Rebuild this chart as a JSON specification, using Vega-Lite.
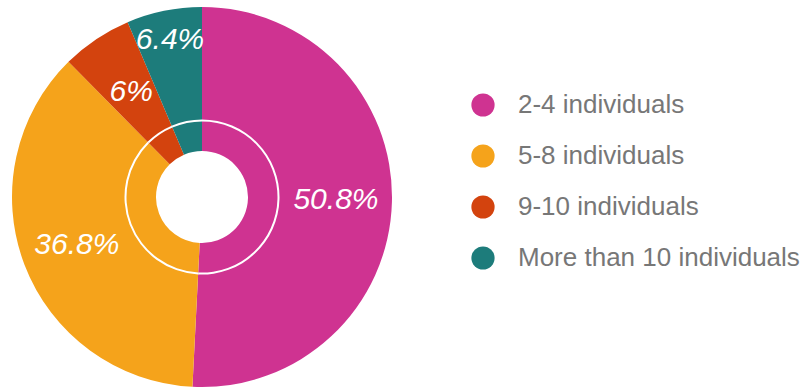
{
  "$schema": "https://vega.github.io/schema/vega-lite/v6.json",
  "width": 404,
  "height": 386,
  "autosize": {"type": "none"},
  "padding": {"left": 0, "top": 4, "right": 405, "bottom": 0},
  "background": "white",
  "view": {"stroke": null},
  "data": {
    "values": [
      {"cat": "2-4 individuals", "pct": 50.8, "label": "50.8%", "ord": 1},
      {"cat": "5-8 individuals", "pct": 36.8, "label": "36.8%", "ord": 2},
      {"cat": "9-10 individuals", "pct": 6, "label": "6%", "ord": 3},
      {"cat": "More than 10 individuals", "pct": 6.4, "label": "6.4%", "ord": 4}
    ]
  },
  "encoding": {
    "theta": {"field": "pct", "type": "quantitative", "stack": true},
    "order": {"field": "ord", "type": "quantitative"}
  },
  "layer": [
    {
      "mark": {"type": "arc", "outerRadius": 190, "innerRadius": 46},
      "encoding": {
        "color": {
          "field": "cat",
          "type": "nominal",
          "sort": ["2-4 individuals", "5-8 individuals", "9-10 individuals", "More than 10 individuals"],
          "scale": {
            "domain": ["2-4 individuals", "5-8 individuals", "9-10 individuals", "More than 10 individuals"],
            "range": ["#CF3391", "#F5A31B", "#D3430E", "#1D7C7B"]
          },
          "legend": {
            "title": null,
            "orient": "none",
            "legendX": 470,
            "legendY": 88,
            "symbolType": "circle",
            "symbolSize": 540,
            "symbolStrokeWidth": 0,
            "symbolOpacity": 1,
            "labelFont": "Liberation Sans",
            "labelFontSize": 26,
            "labelColor": "#777777",
            "labelOffset": 22,
            "labelLimit": 400,
            "rowPadding": 25
          }
        }
      }
    },
    {
      "mark": {"type": "arc", "outerRadius": 77.5, "innerRadius": 75.5, "fill": "white", "stroke": null}
    },
    {
      "mark": {"type": "text", "radius": 134, "font": "Liberation Sans", "fontStyle": "italic", "fontSize": 30, "fill": "white", "align": "center", "baseline": "middle"},
      "encoding": {
        "text": {"condition": {"test": "datum.ord <= 2", "field": "label"}, "value": ""}
      }
    },
    {
      "mark": {"type": "text", "radius": 127, "font": "Liberation Sans", "fontStyle": "italic", "fontSize": 30, "fill": "white", "align": "center", "baseline": "middle"},
      "encoding": {
        "text": {"condition": {"test": "datum.ord === 3", "field": "label"}, "value": ""}
      }
    },
    {
      "mark": {"type": "text", "radius": 160, "font": "Liberation Sans", "fontStyle": "italic", "fontSize": 30, "fill": "white", "align": "center", "baseline": "middle"},
      "encoding": {
        "text": {"condition": {"test": "datum.ord === 4", "field": "label"}, "value": ""}
      }
    }
  ]
}
